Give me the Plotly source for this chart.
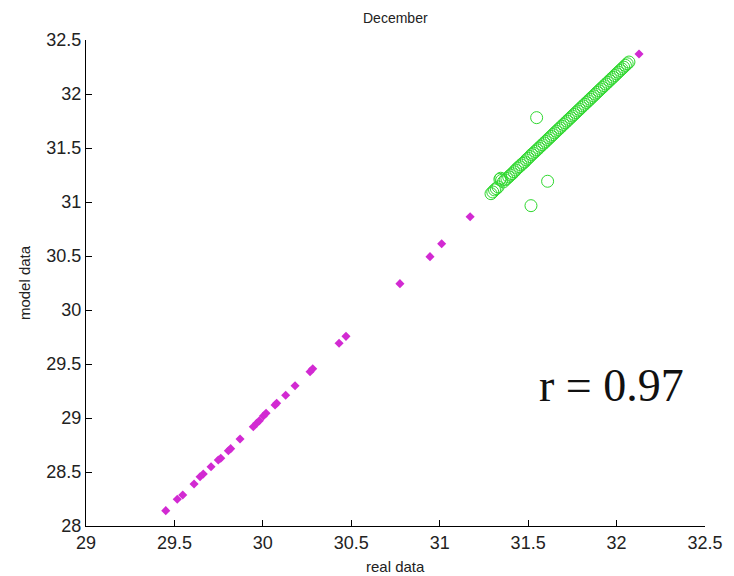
import plotly.graph_objects as go

# magenta filled diamonds (real, model)
mag_x = [29.451, 29.516, 29.547, 29.611, 29.645, 29.663, 29.707, 29.748, 29.762, 29.805,
         29.818, 29.871, 29.946, 29.965, 29.980, 30.003, 30.018, 30.069, 30.078, 30.129,
         30.182, 30.267, 30.282, 30.431, 30.470, 30.775, 30.945, 31.011, 31.172, 32.127]
mag_y = [28.142, 28.247, 28.287, 28.389, 28.456, 28.481, 28.549, 28.611, 28.627, 28.697,
         28.716, 28.806, 28.919, 28.951, 28.975, 29.019, 29.044, 29.120, 29.136, 29.210,
         29.299, 29.429, 29.456, 29.692, 29.756, 30.244, 30.494, 30.614, 30.864, 32.370]

# green open circles (real, model)
grn_x = [31.29, 31.30, 31.31, 31.32, 31.33, 31.34, 31.345, 31.35, 31.36, 31.37,
         31.38, 31.39, 31.40, 31.41, 31.42, 31.43, 31.44, 31.45, 31.46, 31.47,
         31.48, 31.49, 31.50, 31.51, 31.52, 31.53, 31.54, 31.55, 31.56, 31.57,
         31.58, 31.59, 31.60, 31.61, 31.62, 31.63, 31.64, 31.65, 31.66, 31.67,
         31.68, 31.69, 31.70, 31.71, 31.72, 31.73, 31.74, 31.75, 31.76, 31.77,
         31.78, 31.79, 31.80, 31.81, 31.82, 31.83, 31.84, 31.85, 31.86, 31.87,
         31.88, 31.89, 31.90, 31.91, 31.92, 31.93, 31.94, 31.95, 31.96, 31.97,
         31.98, 31.99, 32.00, 32.01, 32.02, 32.03, 32.04, 32.05, 32.06, 32.07,
         31.548, 31.610, 31.516]
grn_y = [31.077, 31.093, 31.112, 31.124, 31.140, 31.210, 31.220, 31.200, 31.186, 31.205,
         31.218, 31.233, 31.249, 31.262, 31.280, 31.296, 31.314, 31.327, 31.343, 31.358,
         31.371, 31.390, 31.405, 31.421, 31.439, 31.452, 31.468, 31.483, 31.499, 31.515,
         31.530, 31.546, 31.561, 31.577, 31.593, 31.608, 31.624, 31.640, 31.655, 31.671,
         31.686, 31.702, 31.718, 31.733, 31.749, 31.765, 31.780, 31.796, 31.811, 31.827,
         31.843, 31.858, 31.874, 31.890, 31.905, 31.921, 31.936, 31.952, 31.968, 31.983,
         31.999, 32.015, 32.030, 32.046, 32.061, 32.077, 32.093, 32.108, 32.124, 32.140,
         32.155, 32.171, 32.187, 32.202, 32.218, 32.233, 32.249, 32.265, 32.280, 32.296,
         31.781, 31.192, 30.966]

x_ticks = [29, 29.5, 30, 30.5, 31, 31.5, 32, 32.5]
x_tick_text = ["29", "29.5", "30", "30.5", "31", "31.5", "32", "32.5"]
y_ticks = [28, 28.5, 29, 29.5, 30, 30.5, 31, 31.5, 32, 32.5]
y_tick_text = ["28", "28.5", "29", "29.5", "30", "30.5", "31", "31.5", "32", "32.5"]

fig = go.Figure()
fig.add_trace(go.Scatter(
    x=mag_x, y=mag_y, mode="markers",
    marker=dict(symbol="diamond", size=7, color="#d22ad2", line=dict(width=0)),
    showlegend=False))
fig.add_trace(go.Scatter(
    x=grn_x, y=grn_y, mode="markers",
    marker=dict(symbol="circle-open", size=12, color="#2ed82e", line=dict(width=1)),
    showlegend=False))

font_main = "Liberation Sans, Arial, sans-serif"

fig.add_annotation(x=31.974, y=29.3, xref="x", yref="y", text="r = 0.97",
                   showarrow=False,
                   font=dict(family="Liberation Serif, Times New Roman, serif", size=46, color="#111"))
# axis titles and chart title placed relative to the plot area
fig.add_annotation(x=0.5, y=-0.084, xref="paper", yref="paper", text="real data",
                   showarrow=False, xanchor="center", yanchor="middle",
                   font=dict(family=font_main, size=15, color="#222"))
fig.add_annotation(x=-0.100, y=0.5, xref="paper", yref="paper", text="model data",
                   showarrow=False, xanchor="center", yanchor="middle", textangle=-90,
                   font=dict(family=font_main, size=15, color="#222"))
fig.add_annotation(x=0.5, y=1.045, xref="paper", yref="paper", text="December",
                   showarrow=False, xanchor="center", yanchor="middle",
                   font=dict(family=font_main, size=14, color="#222"))

fig.update_layout(
    width=734, height=576,
    margin=dict(l=86, r=29, t=40, b=50),
    paper_bgcolor="white", plot_bgcolor="white",
    xaxis=dict(range=[29, 32.5], tickvals=x_ticks, ticktext=x_tick_text, automargin=False,
               showgrid=False, zeroline=False, showline=True, linecolor="black", linewidth=1,
               ticks="inside", ticklen=6, tickcolor="black",
               tickfont=dict(family=font_main, size=18, color="#222")),
    yaxis=dict(range=[28, 32.5], tickvals=y_ticks, ticktext=y_tick_text, automargin=False,
               showgrid=False, zeroline=False, showline=True, linecolor="black", linewidth=1,
               ticks="inside", ticklen=6, tickcolor="black",
               tickfont=dict(family=font_main, size=18, color="#222")),
)

fig.write_html("out.html")
